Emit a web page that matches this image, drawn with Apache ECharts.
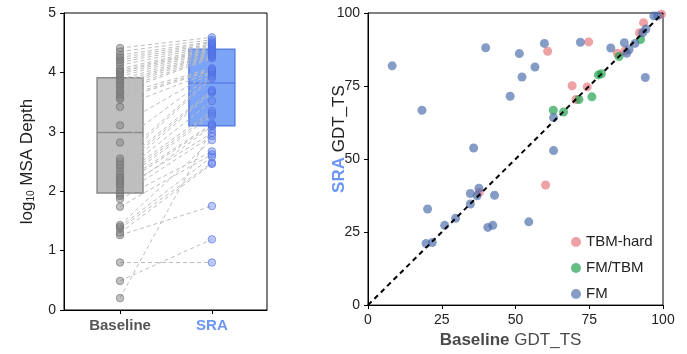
<!DOCTYPE html>
<html>
<head>
<meta charset="utf-8">
<script src="https://cdn.jsdelivr.net/npm/echarts@6/dist/echarts.min.js"></script>
<style>html,body{margin:0;padding:0;background:#fff;}#c{width:687px;height:354px;}</style>
</head>
<body>
<div id="c"></div>
<script>
// ---- Left panel data (log10 MSA depth), paired by index ----
const groups = ['Baseline', 'SRA'];
const baselineDepth = [0.20,0.49,0.80,1.26,1.30,1.37,1.40,1.43,1.74,1.87,1.92,1.96,2.02,2.08,2.12,2.16,2.20,2.24,2.28,2.33,2.40,2.45,2.50,2.55,2.82,3.11,3.42,3.55,3.58,3.63,3.67,3.71,3.76,3.80,3.84,3.88,3.93,3.97,4.00,4.03,4.06,4.12,4.17,4.21,4.25,4.29,4.35,4.41];
const sraDepth      = [3.04,1.19,0.80,1.75,2.46,2.48,2.58,2.86,2.62,2.67,2.93,3.09,2.98,3.11,3.13,3.27,3.31,3.35,3.52,3.66,3.68,3.70,3.90,3.93,3.96,4.00,4.01,4.03,4.05,4.07,4.24,4.26,4.28,4.30,4.31,4.33,4.35,4.37,4.39,4.40,4.42,4.44,4.46,4.48,4.50,4.52,4.55,4.59];
// box: [Q1, median, Q3]
const baselineBox = [1.97, 2.99, 3.91];
const sraBox      = [3.10, 3.82, 4.39];
const depthTicks = [0, 1, 2, 3, 4, 5];

// ---- Right panel data (GDT_TS) [baseline, SRA] ----
const gdtTicks = [0, 25, 50, 75, 100];
const tbmHard = [[60.9,86.9],[69.2,75.1],[70.5,70.4],[74.3,74.7],[74.8,90.1],[84.5,86.2],[87.1,87.0],[92.0,93.2],[93.4,96.7],[99.5,99.6],[60.2,41.1],[37.7,38.5]];
const fmTbm = [[62.8,66.7],[66.3,66.1],[71.5,70.4],[75.9,71.3],[78.1,78.8],[79.1,79.2],[85.1,85.1],[92.4,90.9]];
const fm = [[8.2,81.9],[18.3,66.7],[35.8,53.8],[39.9,88.1],[48.2,71.5],[51.3,86.1],[52.2,78.1],[56.6,81.5],[59.8,89.6],[62.9,64.2],[62.9,52.9],[72.0,90.0],[82.3,88.0],[86.9,89.8],[87.7,86.2],[88.5,87.5],[90.5,89.6],[93.1,93.2],[94.2,94.5],[94.0,77.9],[96.9,99.0],[98.2,99.0],
  [20.2,32.9],[19.7,21.1],[21.8,21.4],[26.0,27.3],[29.7,29.7],[34.7,34.6],[34.7,38.2],[37.0,37.4],[37.6,40.0],[42.9,37.6],[40.6,26.6],[42.3,27.3],[54.5,28.5]];

const FONT = '"Liberation Sans", Arial, Helvetica, sans-serif';
const pairLines = baselineDepth.map((b, i) => ({ coords: [[0, b], [1, sraDepth[i]]] }));
const boxData = [
  { value: [0, baselineBox[0], baselineBox[1], baselineBox[2]], fill: '#bfbfbf', stroke: '#8a8a8a' },
  { value: [1, sraBox[0], sraBox[1], sraBox[2]], fill: '#7ba3f6', stroke: '#5a80e4' }
];

const chart = echarts.init(document.getElementById('c'), null, { renderer: 'canvas' });
const axisLabelStyle = { color: '#222', fontSize: 14, fontFamily: FONT };

chart.setOption({
  animation: false,
  backgroundColor: '#fff',
  textStyle: { fontFamily: FONT },
  grid: [
    { left: 64, right: 420, top: 13, bottom: 44, show: true, borderColor: '#000', borderWidth: 1 },
    { left: 368, right: 24, top: 13, bottom: 44, show: true, borderColor: '#000', borderWidth: 1 }
  ],
  xAxis: [
    {
      gridIndex: 0, type: 'value', min: -0.61, max: 1.6,
      splitLine: { show: false },
      axisLine: { show: true, onZero: false, lineStyle: { color: '#000' } },
      axisTick: { show: true, length: 4, customValues: [0, 1], lineStyle: { color: '#000' } },
      axisLabel: {
        customValues: [0, 1], margin: 8,
        formatter: v => v === 0 ? '{b|' + groups[0] + '}' : '{s|' + groups[1] + '}',
        rich: {
          b: { fontSize: 15, fontWeight: 'bold', color: '#555', fontFamily: FONT },
          s: { fontSize: 15, fontWeight: 'bold', color: '#6b96f2', fontFamily: FONT }
        }
      }
    },
    {
      gridIndex: 1, type: 'value', min: 0, max: 100, interval: 25,
      splitLine: { show: false },
      axisLine: { show: true, onZero: false, lineStyle: { color: '#000' } },
      axisTick: { show: true, length: 4, lineStyle: { color: '#000' } },
      axisLabel: axisLabelStyle,
      name: '{a|Baseline}{b| GDT_TS}', nameLocation: 'middle', nameGap: 24,
      nameTextStyle: {
        padding: [0, 10, 0, 0],
        rich: {
          a: { fontSize: 17, fontWeight: 'bold', color: '#4a4a4a', fontFamily: FONT },
          b: { fontSize: 17, color: '#4a4a4a', fontFamily: FONT }
        }
      }
    }
  ],
  yAxis: [
    {
      gridIndex: 0, type: 'value', min: 0, max: 5, interval: 1,
      splitLine: { show: false },
      axisLine: { show: true, onZero: false, lineStyle: { color: '#000' } },
      axisTick: { show: true, length: 4, lineStyle: { color: '#000' } },
      axisLabel: axisLabelStyle,
      name: 'log{sub|10} MSA Depth', nameLocation: 'middle', nameGap: 28,
      nameTextStyle: {
        fontSize: 17, color: '#222', fontFamily: FONT,
        rich: { sub: { fontSize: 10, color: '#222', verticalAlign: 'bottom', padding: [6, 0, 0, 0], fontFamily: FONT } }
      }
    },
    {
      gridIndex: 1, type: 'value', min: 0, max: 100, interval: 25,
      splitLine: { show: false },
      axisLine: { show: true, onZero: false, lineStyle: { color: '#000' } },
      axisTick: { show: true, length: 4, lineStyle: { color: '#000' } },
      axisLabel: axisLabelStyle,
      name: '{a|SRA}{b| GDT_TS}', nameLocation: 'middle', nameGap: 20, nameMoveOverlap: false,
      nameTextStyle: {
        padding: [0, 0, 0, 40],
        rich: {
          a: { fontSize: 17, fontWeight: 'bold', color: '#6b96f2', fontFamily: FONT },
          b: { fontSize: 17, color: '#222', fontFamily: FONT }
        }
      }
    }
  ],
  legend: {
    orient: 'vertical', left: 566, top: 228, itemWidth: 10, itemHeight: 10, itemGap: 8,
    icon: 'circle',
    textStyle: { fontSize: 15, color: '#222', lineHeight: 18, fontFamily: FONT },
    data: ['TBM-hard', 'FM/TBM', 'FM']
  },
  series: [
    {
      type: 'custom', xAxisIndex: 0, yAxisIndex: 0, z: 1,
      data: boxData,
      renderItem: function (params, api) {
        const d = boxData[params.dataIndex];
        const x = api.value(0);
        const tl = api.coord([x - 0.25, api.value(3)]);
        const br = api.coord([x + 0.25, api.value(1)]);
        const ml = api.coord([x - 0.25, api.value(2)]);
        const mr = api.coord([x + 0.25, api.value(2)]);
        return {
          type: 'group',
          children: [
            { type: 'rect', shape: { x: tl[0], y: tl[1], width: br[0] - tl[0], height: br[1] - tl[1] },
              style: { fill: d.fill, stroke: d.stroke, lineWidth: 1.5 } },
            { type: 'line', shape: { x1: ml[0], y1: ml[1], x2: mr[0], y2: mr[1] },
              style: { stroke: d.stroke, lineWidth: 1.5 } }
          ]
        };
      }
    },
    {
      type: 'lines', coordinateSystem: 'cartesian2d', xAxisIndex: 0, yAxisIndex: 0, z: 2,
      data: pairLines,
      lineStyle: { color: '#bdbdbd', width: 1, type: [4, 3], opacity: 1 }
    },
    {
      type: 'scatter', xAxisIndex: 0, yAxisIndex: 0, z: 3, symbolSize: 7.5,
      data: baselineDepth.map(v => [0, v]),
      itemStyle: { color: 'rgba(128,128,128,0.6)', borderColor: 'rgba(110,110,110,0.8)', borderWidth: 1 }
    },
    {
      type: 'scatter', xAxisIndex: 0, yAxisIndex: 0, z: 3, symbolSize: 7.5,
      data: sraDepth.map(v => [1, v]),
      itemStyle: { color: 'rgba(90,125,235,0.5)', borderColor: 'rgba(80,110,225,0.8)', borderWidth: 1 }
    },
    {
      type: 'line', xAxisIndex: 1, yAxisIndex: 1, z: 5, symbol: 'none', silent: true,
      data: [[0, 0], [100, 100]],
      lineStyle: { color: '#000', width: 2, type: [5, 4] }
    },
    {
      name: 'TBM-hard', type: 'scatter', xAxisIndex: 1, yAxisIndex: 1, z: 3, symbolSize: 9,
      data: tbmHard, itemStyle: { color: 'rgba(228,110,116,0.8)' }
    },
    {
      name: 'FM/TBM', type: 'scatter', xAxisIndex: 1, yAxisIndex: 1, z: 3, symbolSize: 9,
      data: fmTbm, itemStyle: { color: 'rgba(30,160,75,0.85)' }
    },
    {
      name: 'FM', type: 'scatter', xAxisIndex: 1, yAxisIndex: 1, z: 3, symbolSize: 9,
      data: fm, itemStyle: { color: 'rgba(68,106,168,0.82)' }
    }
  ]
});
</script>
</body>
</html>
